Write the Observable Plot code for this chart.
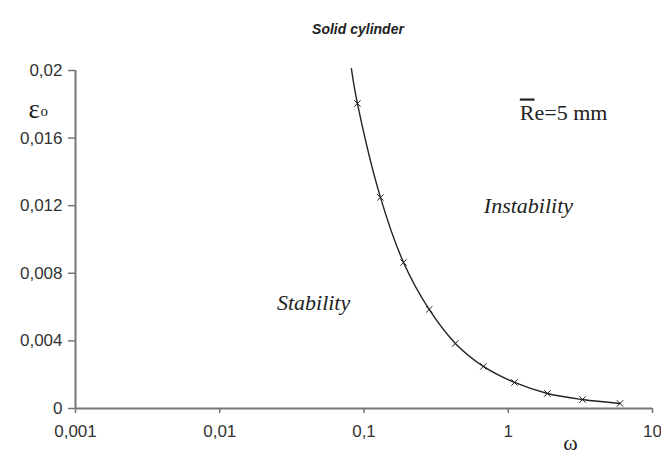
<!DOCTYPE html>
<html>
<head>
<meta charset="utf-8">
<script src="https://cdn.jsdelivr.net/npm/d3@7"></script>
<script src="https://cdn.jsdelivr.net/npm/@observablehq/plot@0.6"></script>
<style>
  html, body { margin: 0; padding: 0; background: #fff; }
  #chart { width: 661px; height: 460px; overflow: hidden; }
</style>
</head>
<body>
<div id="chart"></div>
<script>
// Measured points (markers)
const omega   = [0.090, 0.130, 0.188, 0.283, 0.430, 0.673, 1.105, 1.87, 3.27, 5.95];
const epsilon = [0.01805, 0.01249, 0.00864, 0.00586, 0.00385, 0.00249, 0.00154, 0.00089, 0.00053, 0.00030];
// Curve start (above the first marker)
const curveStartOmega = [0.0818];
const curveStartEps = [0.0201];

const xTicks = [0.001, 0.01, 0.1, 1, 10];
const yTicks = [0, 0.004, 0.008, 0.012, 0.016, 0.02];

const titleText = "Solid cylinder";
const regionLabels = ["Stability", "Instability"];
const regionOmega = [0.0447, 1.38];
const regionEps = [0.00627, 0.0120];

const points = omega.map((w, i) => ({w, e: epsilon[i]}));
const curve = curveStartOmega.map((w, i) => ({w, e: curveStartEps[i]})).concat(points);
const regions = regionLabels.map((t, i) => ({t, w: regionOmega[i], e: regionEps[i]}));

const comma = d => String(d).replace(".", ",");
const axisColor = "#777";
const textColor = "#333";
const sans = "Liberation Sans, Arial, sans-serif";
const serif = "Liberation Serif, Times New Roman, serif";

const chart = Plot.plot({
  width: 661,
  height: 460,
  marginLeft: 75,
  marginRight: 9,
  marginTop: 70,
  marginBottom: 52,
  style: {background: "#fff", overflow: "visible"},
  x: {type: "log", domain: [0.001, 10]},
  y: {domain: [0, 0.02]},
  marks: [
    Plot.axisX(xTicks, {tickSize: 5, tickPadding: 11, tickFormat: comma, stroke: axisColor, fill: textColor, fontSize: 17, fontFamily: sans, strokeWidth: 1.5, label: null}),
    Plot.axisY(yTicks, {tickSize: 7, tickPadding: 6, tickFormat: comma, stroke: axisColor, fill: textColor, fontSize: 17, fontFamily: sans, strokeWidth: 1.5, label: null}),
    Plot.ruleY([0], {stroke: axisColor, strokeWidth: 2}),
    Plot.ruleX([0.001], {stroke: axisColor, strokeWidth: 2}),
    Plot.line(curve, {x: "w", y: "e", curve: "catmull-rom", stroke: "#222", strokeWidth: 1.4}),
    Plot.dot(points, {x: "w", y: "e", symbol: "times", r: 3, stroke: "#222", strokeWidth: 1}),
    Plot.text(regions, {x: "w", y: "e", text: "t", fontFamily: serif, fontStyle: "italic", fontSize: 22, fill: "#222"}),
    Plot.text([titleText], {frameAnchor: "top", dx: -6, dy: -46, fontFamily: sans, fontStyle: "italic", fontWeight: "bold", fontSize: 14, fill: "#222"}),
    Plot.text(["Re=5 mm"], {x: 2.42, y: 0.01746, fontFamily: serif, fontSize: 22, fill: "#222"}),
    Plot.text(["ω"], {x: 2.7, frameAnchor: "bottom", dy: 41, fontFamily: serif, fontSize: 22, fill: "#222"}),
    Plot.text(["ε"], {frameAnchor: "top-left", dx: -47, dy: 28, fontFamily: serif, fontSize: 27, fill: "#222", textAnchor: "start"}),
    Plot.text(["o"], {frameAnchor: "top-left", dx: -35, dy: 35, fontFamily: serif, fontSize: 15, fill: "#222", textAnchor: "start"})
  ]
});

// Overline on the R of "Re"
chart.querySelectorAll("text").forEach(t => {
  if (t.textContent === "Re=5 mm") {
    t.textContent = "";
    const ns = "http://www.w3.org/2000/svg";
    const a = document.createElementNS(ns, "tspan");
    a.setAttribute("text-decoration", "overline");
    a.style.textDecoration = "overline";
    a.textContent = "R";
    const b = document.createElementNS(ns, "tspan");
    b.textContent = "e=5 mm";
    t.appendChild(a); t.appendChild(b);
  }
});

document.getElementById("chart").appendChild(chart);
</script>
</body>
</html>
